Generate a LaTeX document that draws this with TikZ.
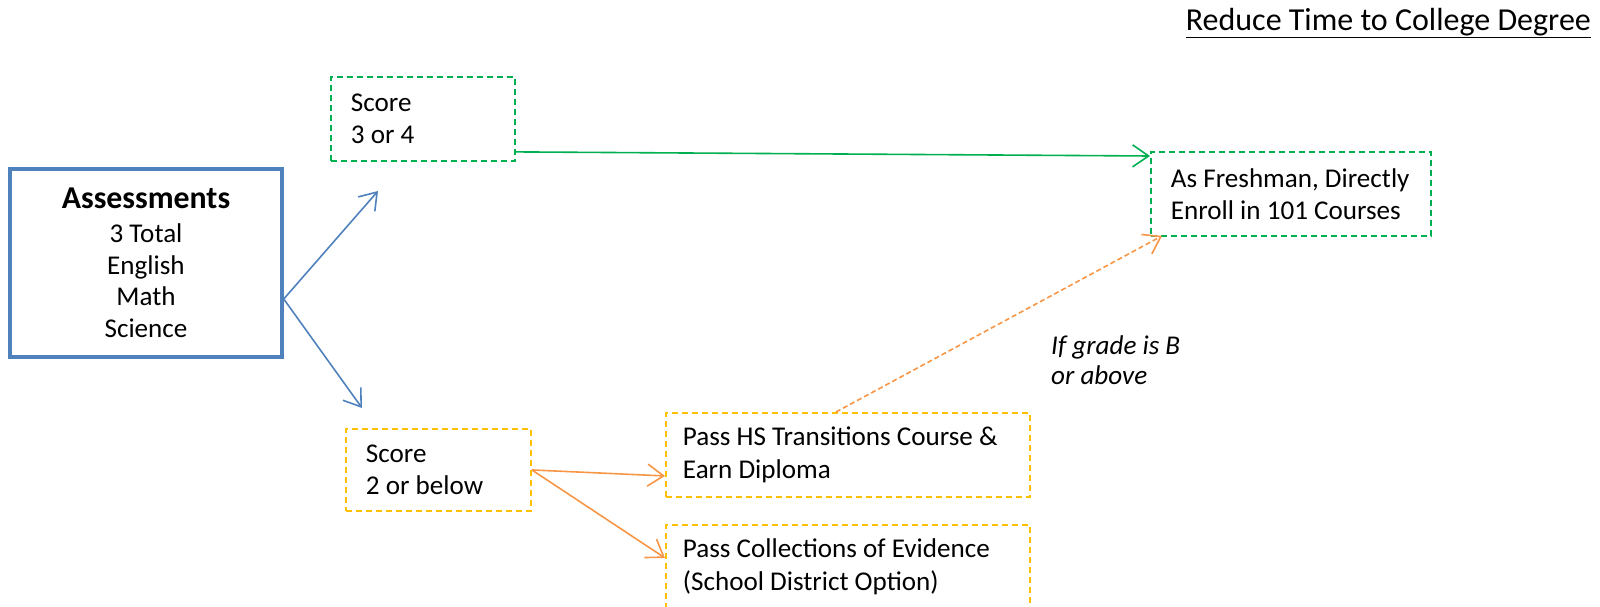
\documentclass[tikz,border=0pt]{standalone}
\usepackage{fontspec}
\setmainfont{Carlito}
\usetikzlibrary{arrows.meta,calc}
\definecolor{ablue}{HTML}{4F81BD}
\definecolor{agreen}{HTML}{00B050}
\definecolor{agold}{HTML}{FFC000}
\definecolor{aorange}{HTML}{F79646}
\tikzset{
  body/.style={font=\fontsize{27.1}{32.5}\selectfont},
  dbox/.style={body, dash pattern=on 6pt off 4pt, line width=1.9pt,
    align=flush left, inner ysep=0pt, anchor=north west},
  gbox/.style={dbox, draw=agreen},
  obox/.style={dbox, draw=agold},
  conn/.style={line width=1.6pt, -{Straight Barb[length=16pt,width=22pt,line width=1.6pt]}},
}
\begin{document}
\begin{tikzpicture}[x=1pt,y=-1pt]
\useasboundingbox (0,0) rectangle (1600,607);

% title
\node[font=\fontsize{32}{38}\selectfont, anchor=north east, inner sep=0pt] (title) at (1591,8)
  {\underline{Reduce Time to College Degree}};

% assessment box
\node[draw=ablue, line width=3.5pt, minimum width=272pt, minimum height=188pt,
  inner sep=0pt, align=center, font=\fontsize{27.1}{31.7}\selectfont] (assess) at (146,263)
  {{\fontsize{31.8}{34}\selectfont\bfseries Assessments}\\[2pt]3 Total\\English\\Math\\Science};

% outcome boxes: corner, width (text width + 2 x padding) and height
\node[gbox, inner xsep=20pt, text width=144pt, minimum height=84pt] (s34) at (330,76)
  {Score\\3 or 4};
\node[gbox, inner xsep=20pt, text width=240pt, minimum height=84pt] (fresh) at (1150,151)
  {As Freshman, Directly\\Enroll in 101 Courses};
\node[obox, inner xsep=20pt, text width=145pt, minimum height=82pt] (s2) at (345,428)
  {Score\\2 or below};
\node[obox, inner xsep=17pt, text width=330pt, minimum height=84pt] (hs) at (665,412)
  {Pass HS Transitions Course \&\\Earn Diploma};
\node[obox, inner xsep=17pt, text width=330pt, minimum height=84pt] (coe) at (665,524)
  {Pass Collections of Evidence\\(School District Option)};

% condition label
\node[font=\fontsize{27.1}{30}\selectfont\itshape, align=flush left, anchor=west, inner sep=0pt] (cond) at (1051,360)
  {If grade is B\\or above};

% connectors
\coordinate (fork) at ($(assess.east)+(0,36)$);
\coordinate (upend) at (378,191);
\coordinate (downend) at (362,408);
\draw[conn, draw=ablue] (fork) -- (upend);
\draw[conn, draw=ablue] (fork) -- (downend);
\draw[conn, draw=agreen] ($(s34.south east)+(0,-10)$) -- ($(fresh.north west)+(0,5)$);
\draw[conn, draw=aorange] (s2.east) -- ($(hs.west)+(0,21)$);
\draw[conn, draw=aorange] (s2.east) -- ($(coe.west)+(0,-9)$);
\draw[conn, draw=aorange, dash pattern=on 5pt off 3pt] ($(hs.north)+(-12,0)$) -- ($(fresh.south west)+(12,-1)$);
\end{tikzpicture}
\end{document}
